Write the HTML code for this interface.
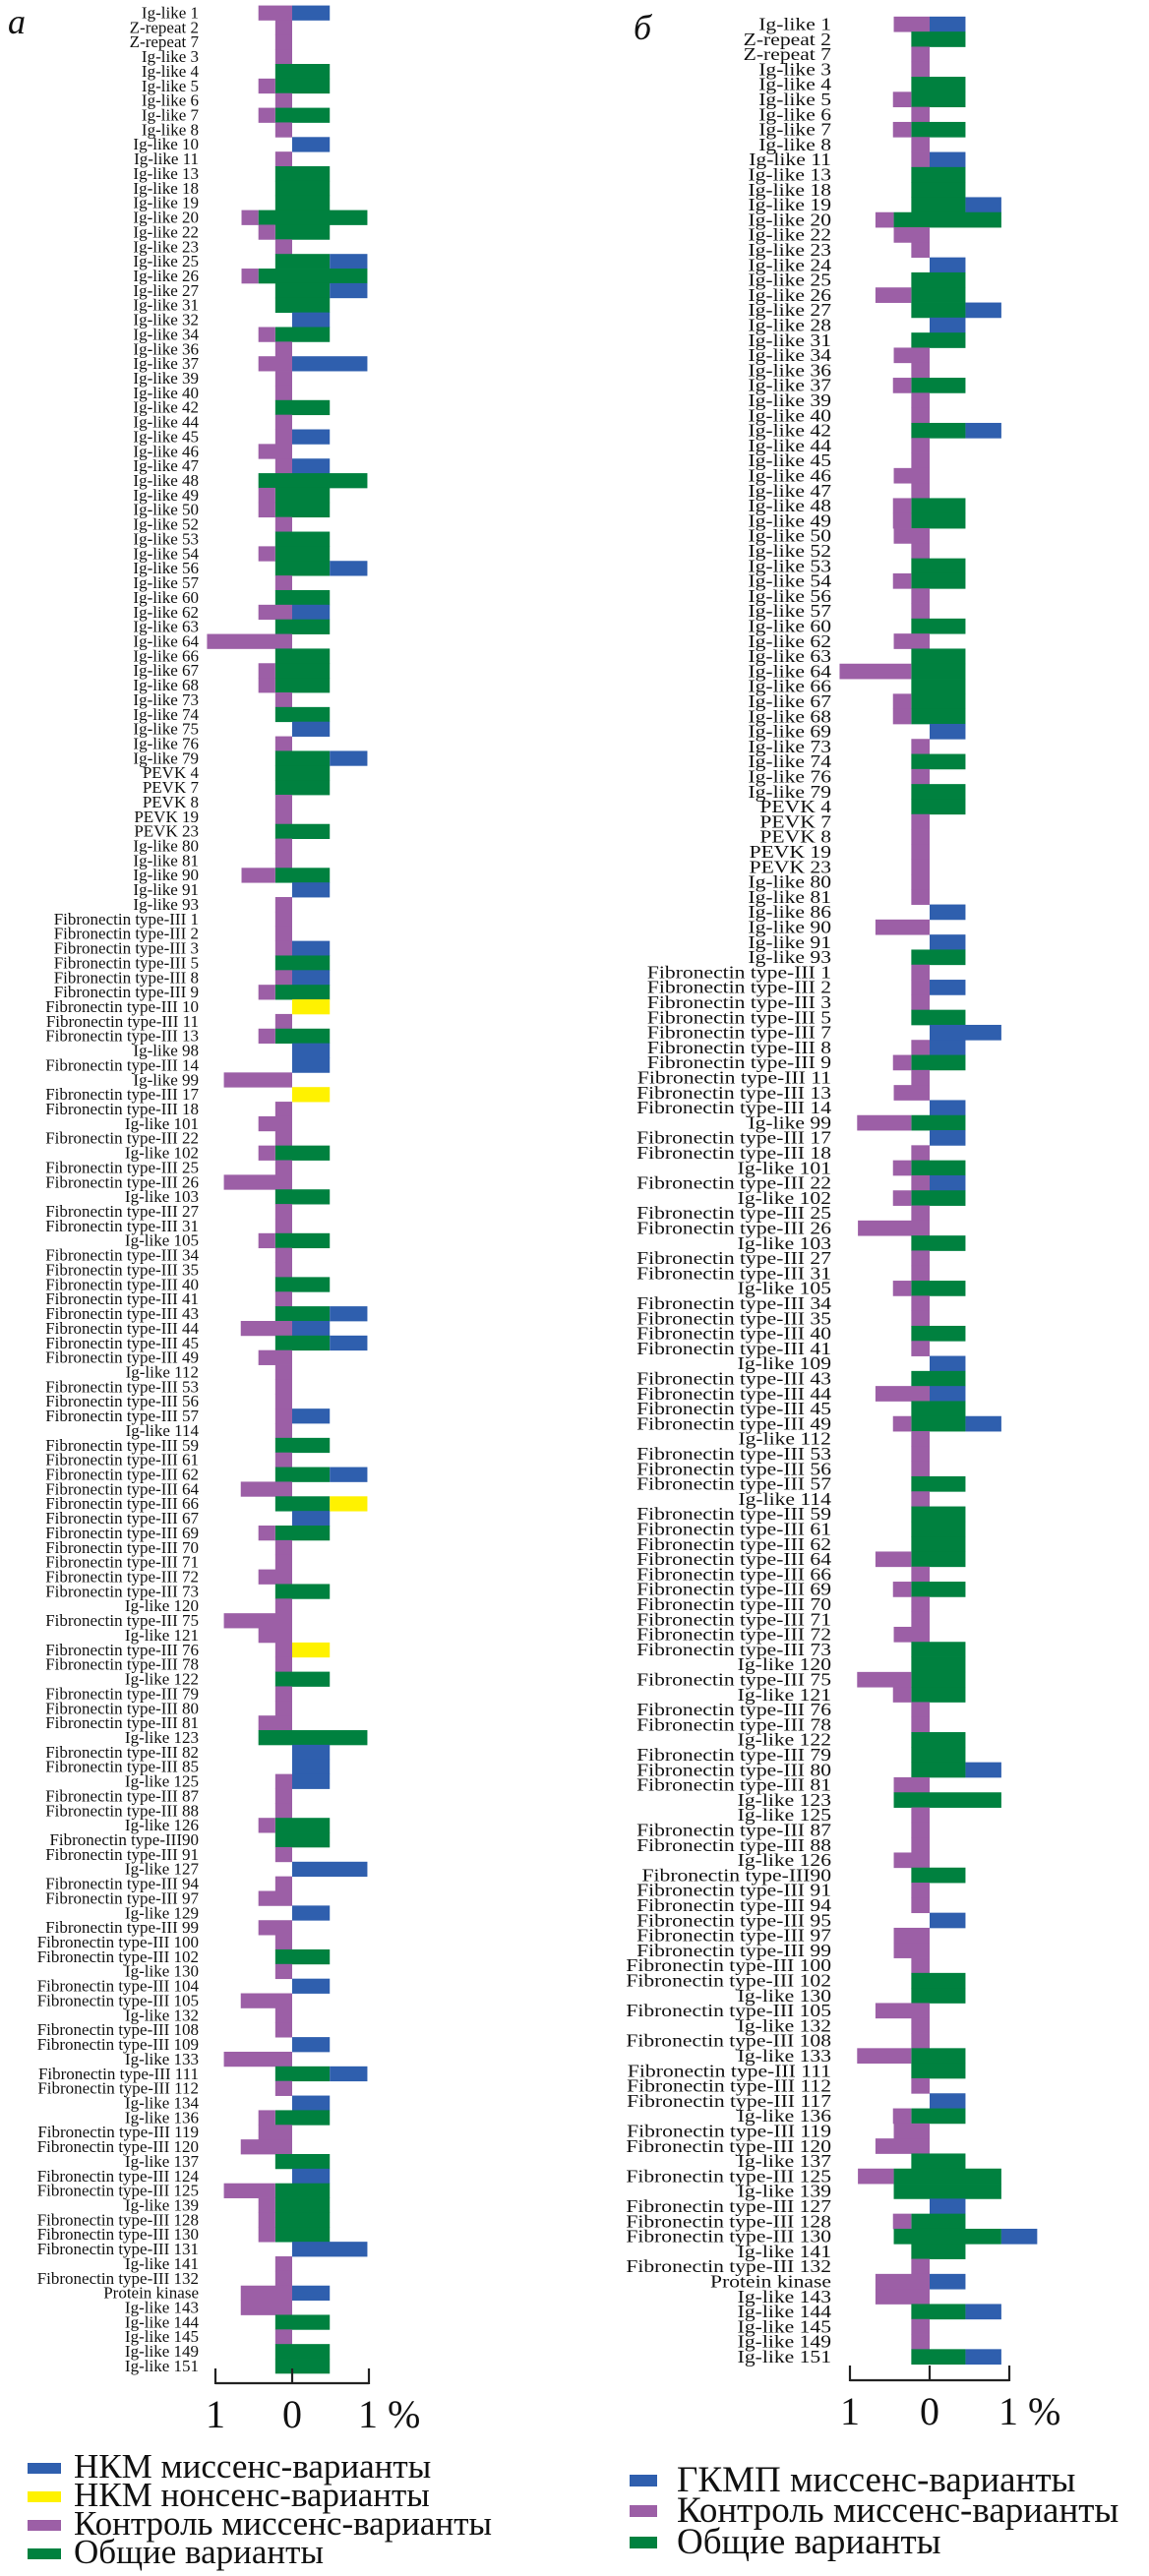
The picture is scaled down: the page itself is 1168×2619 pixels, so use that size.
<!DOCTYPE html>
<html><head><meta charset="utf-8"><style>
html,body{margin:0;padding:0;background:#fff;}
svg{display:block;}
text{font-family:"Liberation Serif","DejaVu Serif",serif;fill:#111;}
</style></head><body>
<svg id="chart" width="1168" height="2619" viewBox="0 0 1168 2619" xmlns="http://www.w3.org/2000/svg">
<text x="8" y="34" font-size="36" font-style="italic">а</text>
<text x="644" y="40" font-size="36" font-style="italic">б</text>
<g id="panelA"></g>
<g id="panelB"></g>
<g>
<rect x="28" y="2504" width="34" height="11" fill="#2f5fae"/>
<text x="75" y="2519" font-size="35">НКМ миссенс-варианты</text>
<rect x="28" y="2533" width="34" height="11" fill="#fff200"/>
<text x="75" y="2548" font-size="35">НКМ нонсенс-варианты</text>
<rect x="28" y="2562" width="34" height="11" fill="#9c5fa6"/>
<text x="75" y="2577" font-size="35">Контроль миссенс-варианты</text>
<rect x="28" y="2591" width="34" height="11" fill="#00813f"/>
<text x="75" y="2606" font-size="35">Общие варианты</text>
</g>
<g>
<rect x="640" y="2516" width="28" height="12" fill="#2f5fae"/>
<text x="688" y="2533" font-size="37">ГКМП миссенс-варианты</text>
<rect x="640" y="2547" width="28" height="12" fill="#9c5fa6"/>
<text x="688" y="2564" font-size="37">Контроль миссенс-варианты</text>
<rect x="640" y="2579" width="28" height="12" fill="#00813f"/>
<text x="688" y="2596" font-size="37">Общие варианты</text>
</g>
</svg>
<script>
const tickLabels = ["1", "0", "1 %"];
const tickValues = [-1, 0, 1];

const labelsA = ["Ig-like 1","Z-repeat 2","Z-repeat 7","Ig-like 3","Ig-like 4","Ig-like 5","Ig-like 6","Ig-like 7","Ig-like 8","Ig-like 10",
"Ig-like 11","Ig-like 13","Ig-like 18","Ig-like 19","Ig-like 20","Ig-like 22","Ig-like 23","Ig-like 25","Ig-like 26","Ig-like 27",
"Ig-like 31","Ig-like 32","Ig-like 34","Ig-like 36","Ig-like 37","Ig-like 39","Ig-like 40","Ig-like 42","Ig-like 44","Ig-like 45",
"Ig-like 46","Ig-like 47","Ig-like 48","Ig-like 49","Ig-like 50","Ig-like 52","Ig-like 53","Ig-like 54","Ig-like 56","Ig-like 57",
"Ig-like 60","Ig-like 62","Ig-like 63","Ig-like 64","Ig-like 66","Ig-like 67","Ig-like 68","Ig-like 73","Ig-like 74","Ig-like 75",
"Ig-like 76","Ig-like 79","PEVK 4","PEVK 7","PEVK 8","PEVK 19","PEVK 23","Ig-like 80","Ig-like 81","Ig-like 90",
"Ig-like 91","Ig-like 93","Fibronectin type-III 1","Fibronectin type-III 2","Fibronectin type-III 3","Fibronectin type-III 5","Fibronectin type-III 8","Fibronectin type-III 9","Fibronectin type-III 10","Fibronectin type-III 11",
"Fibronectin type-III 13","Ig-like 98","Fibronectin type-III 14","Ig-like 99","Fibronectin type-III 17","Fibronectin type-III 18","Ig-like 101","Fibronectin type-III 22","Ig-like 102","Fibronectin type-III 25",
"Fibronectin type-III 26","Ig-like 103","Fibronectin type-III 27","Fibronectin type-III 31","Ig-like 105","Fibronectin type-III 34","Fibronectin type-III 35","Fibronectin type-III 40","Fibronectin type-III 41","Fibronectin type-III 43",
"Fibronectin type-III 44","Fibronectin type-III 45","Fibronectin type-III 49","Ig-like 112","Fibronectin type-III 53","Fibronectin type-III 56","Fibronectin type-III 57","Ig-like 114","Fibronectin type-III 59","Fibronectin type-III 61",
"Fibronectin type-III 62","Fibronectin type-III 64","Fibronectin type-III 66","Fibronectin type-III 67","Fibronectin type-III 69","Fibronectin type-III 70","Fibronectin type-III 71","Fibronectin type-III 72","Fibronectin type-III 73","Ig-like 120",
"Fibronectin type-III 75","Ig-like 121","Fibronectin type-III 76","Fibronectin type-III 78","Ig-like 122","Fibronectin type-III 79","Fibronectin type-III 80","Fibronectin type-III 81","Ig-like 123","Fibronectin type-III 82",
"Fibronectin type-III 85","Ig-like 125","Fibronectin type-III 87","Fibronectin type-III 88","Ig-like 126","Fibronectin type-III90","Fibronectin type-III 91","Ig-like 127","Fibronectin type-III 94","Fibronectin type-III 97",
"Ig-like 129","Fibronectin type-III 99","Fibronectin type-III 100","Fibronectin type-III 102","Ig-like 130","Fibronectin type-III 104","Fibronectin type-III 105","Ig-like 132","Fibronectin type-III 108","Fibronectin type-III 109",
"Ig-like 133","Fibronectin type-III 111","Fibronectin type-III 112","Ig-like 134","Ig-like 136","Fibronectin type-III 119","Fibronectin type-III 120","Ig-like 137","Fibronectin type-III 124","Fibronectin type-III 125",
"Ig-like 139","Fibronectin type-III 128","Fibronectin type-III 130","Fibronectin type-III 131","Ig-like 141","Fibronectin type-III 132","Protein kinase","Ig-like 143","Ig-like 144","Ig-like 145",
"Ig-like 149","Ig-like 151"];

const controlMissenseA = [0.44,0.22,0.22,0.22,0,0.22,0.22,0.22,0.22,0,
0.22,0,0,0,0.22,0.22,0.22,0,0.22,0,
0,0,0.22,0.22,0.44,0.22,0.22,0,0.22,0.22,
0.44,0.22,0,0.22,0.22,0.22,0,0.22,0,0.22,
0,0.44,0,1.11,0,0.22,0.22,0.22,0,0,
0.22,0,0,0,0.22,0.22,0,0.22,0.22,0.44,
0,0.22,0.22,0.22,0.22,0,0.22,0.22,0,0.22,
0.22,0,0,0.89,0,0.22,0.44,0.22,0.22,0.22,
0.89,0,0.22,0.22,0.22,0.22,0.22,0,0.22,0,
0.67,0,0.44,0.22,0.22,0.22,0.22,0.22,0,0.22,
0,0.67,0,0,0.22,0.22,0.22,0.44,0,0.22,
0.89,0.44,0.22,0.22,0,0.22,0.22,0.44,0,0,
0,0.22,0.22,0.22,0.22,0,0.22,0,0.22,0.44,
0,0.44,0.22,0,0.22,0,0.67,0.22,0.22,0,
0.89,0,0.22,0,0.22,0.44,0.67,0,0,0.67,
0.22,0.22,0.22,0,0.22,0.22,0.67,0.67,0,0.22,
0,0];

const controlCommonA = [0,0,0,0,0.22,0.22,0,0.22,0,0,
0,0.22,0.22,0.22,0.44,0.22,0,0.22,0.44,0.22,
0.22,0,0.22,0,0,0,0,0.22,0,0,
0,0,0.44,0.22,0.22,0,0.22,0.22,0.22,0,
0.22,0,0.22,0,0.22,0.22,0.22,0,0.22,0,
0,0.22,0.22,0.22,0,0,0.22,0,0,0.22,
0,0,0,0,0,0.22,0,0.22,0,0,
0.22,0,0,0,0,0,0,0,0.22,0,
0,0.22,0,0,0.22,0,0,0.22,0,0.22,
0,0.22,0,0,0,0,0,0,0.22,0,
0.22,0,0.22,0,0.22,0,0,0,0.22,0,
0,0,0,0,0.22,0,0,0,0.44,0,
0,0,0,0,0.22,0.22,0,0,0,0,
0,0,0,0.22,0,0,0,0,0,0,
0,0.22,0,0,0.22,0,0,0.22,0,0.22,
0.22,0.22,0.22,0,0,0,0,0,0.22,0,
0.22,0.22];

const patientCommonA = [0,0,0,0,0.49,0.49,0,0.49,0,0,
0,0.49,0.49,0.49,0.98,0.49,0,0.49,0.98,0.49,
0.49,0,0.49,0,0,0,0,0.49,0,0,
0,0,0.98,0.49,0.49,0,0.49,0.49,0.49,0,
0.49,0,0.49,0,0.49,0.49,0.49,0,0.49,0,
0,0.49,0.49,0.49,0,0,0.49,0,0,0.49,
0,0,0,0,0,0.49,0,0.49,0,0,
0.49,0,0,0,0,0,0,0,0.49,0,
0,0.49,0,0,0.49,0,0,0.49,0,0.49,
0,0.49,0,0,0,0,0,0,0.49,0,
0.49,0,0.49,0,0.49,0,0,0,0.49,0,
0,0,0,0,0.49,0,0,0,0.98,0,
0,0,0,0,0.49,0.49,0,0,0,0,
0,0,0,0.49,0,0,0,0,0,0,
0,0.49,0,0,0.49,0,0,0.49,0,0.49,
0.49,0.49,0.49,0,0,0,0,0,0.49,0,
0.49,0.49];

const patientMissenseA = [0.49,0,0,0,0,0,0,0,0,0.49,
0,0,0,0,0,0,0,0.49,0,0.49,
0,0.49,0,0,0.98,0,0,0,0,0.49,
0,0.49,0,0,0,0,0,0,0.49,0,
0,0.49,0,0,0,0,0,0,0,0.49,
0,0.49,0,0,0,0,0,0,0,0,
0.49,0,0,0,0.49,0,0.49,0,0,0,
0,0.49,0.49,0,0,0,0,0,0,0,
0,0,0,0,0,0,0,0,0,0.49,
0.49,0.49,0,0,0,0,0.49,0,0,0,
0.49,0,0,0.49,0,0,0,0,0,0,
0,0,0,0,0,0,0,0,0,0.49,
0.49,0.49,0,0,0,0,0,0.98,0,0,
0.49,0,0,0,0,0.49,0,0,0,0.49,
0,0.49,0,0.49,0,0,0,0,0.49,0,
0,0,0,0.98,0,0,0.49,0,0,0,
0,0];

const patientNonsenseA = [0,0,0,0,0,0,0,0,0,0,
0,0,0,0,0,0,0,0,0,0,
0,0,0,0,0,0,0,0,0,0,
0,0,0,0,0,0,0,0,0,0,
0,0,0,0,0,0,0,0,0,0,
0,0,0,0,0,0,0,0,0,0,
0,0,0,0,0,0,0,0,0.49,0,
0,0,0,0,0.49,0,0,0,0,0,
0,0,0,0,0,0,0,0,0,0,
0,0,0,0,0,0,0,0,0,0,
0,0,0.49,0,0,0,0,0,0,0,
0,0,0.49,0,0,0,0,0,0,0,
0,0,0,0,0,0,0,0,0,0,
0,0,0,0,0,0,0,0,0,0,
0,0,0,0,0,0,0,0,0,0,
0,0,0,0,0,0,0,0,0,0,
0,0];

const labelsB = ["Ig-like 1","Z-repeat 2","Z-repeat 7","Ig-like 3","Ig-like 4","Ig-like 5","Ig-like 6","Ig-like 7","Ig-like 8","Ig-like 11",
"Ig-like 13","Ig-like 18","Ig-like 19","Ig-like 20","Ig-like 22","Ig-like 23","Ig-like 24","Ig-like 25","Ig-like 26","Ig-like 27",
"Ig-like 28","Ig-like 31","Ig-like 34","Ig-like 36","Ig-like 37","Ig-like 39","Ig-like 40","Ig-like 42","Ig-like 44","Ig-like 45",
"Ig-like 46","Ig-like 47","Ig-like 48","Ig-like 49","Ig-like 50","Ig-like 52","Ig-like 53","Ig-like 54","Ig-like 56","Ig-like 57",
"Ig-like 60","Ig-like 62","Ig-like 63","Ig-like 64","Ig-like 66","Ig-like 67","Ig-like 68","Ig-like 69","Ig-like 73","Ig-like 74",
"Ig-like 76","Ig-like 79","PEVK 4","PEVK 7","PEVK 8","PEVK 19","PEVK 23","Ig-like 80","Ig-like 81","Ig-like 86",
"Ig-like 90","Ig-like 91","Ig-like 93","Fibronectin type-III 1","Fibronectin type-III 2","Fibronectin type-III 3","Fibronectin type-III 5","Fibronectin type-III 7","Fibronectin type-III 8","Fibronectin type-III 9",
"Fibronectin type-III 11","Fibronectin type-III 13","Fibronectin type-III 14","Ig-like 99","Fibronectin type-III 17","Fibronectin type-III 18","Ig-like 101","Fibronectin type-III 22","Ig-like 102","Fibronectin type-III 25",
"Fibronectin type-III 26","Ig-like 103","Fibronectin type-III 27","Fibronectin type-III 31","Ig-like 105","Fibronectin type-III 34","Fibronectin type-III 35","Fibronectin type-III 40","Fibronectin type-III 41","Ig-like 109",
"Fibronectin type-III 43","Fibronectin type-III 44","Fibronectin type-III 45","Fibronectin type-III 49","Ig-like 112","Fibronectin type-III 53","Fibronectin type-III 56","Fibronectin type-III 57","Ig-like 114","Fibronectin type-III 59",
"Fibronectin type-III 61","Fibronectin type-III 62","Fibronectin type-III 64","Fibronectin type-III 66","Fibronectin type-III 69","Fibronectin type-III 70","Fibronectin type-III 71","Fibronectin type-III 72","Fibronectin type-III 73","Ig-like 120",
"Fibronectin type-III 75","Ig-like 121","Fibronectin type-III 76","Fibronectin type-III 78","Ig-like 122","Fibronectin type-III 79","Fibronectin type-III 80","Fibronectin type-III 81","Ig-like 123","Ig-like 125",
"Fibronectin type-III 87","Fibronectin type-III 88","Ig-like 126","Fibronectin type-III90","Fibronectin type-III 91","Fibronectin type-III 94","Fibronectin type-III 95","Fibronectin type-III 97","Fibronectin type-III 99","Fibronectin type-III 100",
"Fibronectin type-III 102","Ig-like 130","Fibronectin type-III 105","Ig-like 132","Fibronectin type-III 108","Ig-like 133","Fibronectin type-III 111","Fibronectin type-III 112","Fibronectin type-III 117","Ig-like 136",
"Fibronectin type-III 119","Fibronectin type-III 120","Ig-like 137","Fibronectin type-III 125","Ig-like 139","Fibronectin type-III 127","Fibronectin type-III 128","Fibronectin type-III 130","Ig-like 141","Fibronectin type-III 132",
"Protein kinase","Ig-like 143","Ig-like 144","Ig-like 145","Ig-like 149","Ig-like 151"];

const controlMissenseB = [0.45,0,0.23,0.23,0,0.23,0.23,0.23,0.23,0.23,
0,0,0,0.23,0.45,0.23,0,0,0.45,0,
0,0,0.45,0.23,0.23,0.23,0.23,0,0.23,0.23,
0.45,0.23,0.23,0.23,0.45,0.23,0,0.23,0.23,0.23,
0,0.45,0,0.9,0,0.23,0.23,0,0.23,0,
0.23,0,0,0.23,0.23,0.23,0.23,0.23,0.23,0,
0.68,0,0,0.23,0.23,0.23,0,0,0.23,0.23,
0.23,0.45,0,0.68,0,0.23,0.23,0.23,0.23,0.23,
0.9,0,0.23,0.23,0.23,0.23,0.23,0,0.23,0,
0,0.68,0,0.23,0.23,0.23,0.23,0,0.23,0,
0,0,0.45,0.23,0.23,0.23,0.23,0.45,0,0,
0.68,0.23,0.23,0.23,0,0,0,0.45,0,0.23,
0.23,0.23,0.45,0,0.23,0.23,0,0.45,0.45,0.23,
0,0,0.68,0.23,0.23,0.68,0,0.23,0,0.23,
0.45,0.68,0,0.45,0,0,0.23,0,0,0.23,
0.68,0.68,0,0.23,0.23,0];

const controlCommonB = [0,0.23,0,0,0.23,0.23,0,0.23,0,0,
0.23,0.23,0.23,0.45,0,0,0,0.23,0.23,0.23,
0,0.23,0,0,0.23,0,0,0.23,0,0,
0,0,0.23,0.23,0,0,0.23,0.23,0,0,
0.23,0,0.23,0.23,0.23,0.23,0.23,0,0,0.23,
0,0.23,0.23,0,0,0,0,0,0,0,
0,0,0.23,0,0,0,0.23,0,0,0.23,
0,0,0,0.23,0,0,0.23,0,0.23,0,
0,0.23,0,0,0.23,0,0,0.23,0,0,
0.23,0,0.23,0.23,0,0,0,0.23,0,0.23,
0.23,0.23,0.23,0,0.23,0,0,0,0.23,0.23,
0.23,0.23,0,0,0.23,0.23,0.23,0,0.45,0,
0,0,0,0.23,0,0,0,0,0,0,
0.23,0.23,0,0,0,0.23,0.23,0,0,0.23,
0,0,0.23,0.45,0.45,0,0.23,0.45,0.23,0,
0,0,0.23,0,0,0.23];

const patientCommonB = [0,0.45,0,0,0.45,0.45,0,0.45,0,0,
0.45,0.45,0.45,0.9,0,0,0,0.45,0.45,0.45,
0,0.45,0,0,0.45,0,0,0.45,0,0,
0,0,0.45,0.45,0,0,0.45,0.45,0,0,
0.45,0,0.45,0.45,0.45,0.45,0.45,0,0,0.45,
0,0.45,0.45,0,0,0,0,0,0,0,
0,0,0.45,0,0,0,0.45,0,0,0.45,
0,0,0,0.45,0,0,0.45,0,0.45,0,
0,0.45,0,0,0.45,0,0,0.45,0,0,
0.45,0,0.45,0.45,0,0,0,0.45,0,0.45,
0.45,0.45,0.45,0,0.45,0,0,0,0.45,0.45,
0.45,0.45,0,0,0.45,0.45,0.45,0,0.9,0,
0,0,0,0.45,0,0,0,0,0,0,
0.45,0.45,0,0,0,0.45,0.45,0,0,0.45,
0,0,0.45,0.9,0.9,0,0.45,0.9,0.45,0,
0,0,0.45,0,0,0.45];

const patientMissenseB = [0.45,0,0,0,0,0,0,0,0,0.45,
0,0,0.45,0,0,0,0.45,0,0,0.45,
0.45,0,0,0,0,0,0,0.45,0,0,
0,0,0,0,0,0,0,0,0,0,
0,0,0,0,0,0,0,0.45,0,0,
0,0,0,0,0,0,0,0,0,0.45,
0,0.45,0,0,0.45,0,0,0.9,0.45,0,
0,0,0.45,0,0.45,0,0,0.45,0,0,
0,0,0,0,0,0,0,0,0,0.45,
0,0.45,0,0.45,0,0,0,0,0,0,
0,0,0,0,0,0,0,0,0,0,
0,0,0,0,0,0,0.45,0,0,0,
0,0,0,0,0,0,0.45,0,0,0,
0,0,0,0,0,0,0,0,0.45,0,
0,0,0,0,0,0.45,0,0.45,0,0,
0.45,0,0.45,0,0,0.45];

const C = {blue:"#2f5fae", yellow:"#fff200", purple:"#9c5fa6", green:"#00813f"};
const NS = "http://www.w3.org/2000/svg";

function mk(tag, attrs){
  const el = document.createElementNS(NS, tag);
  for (const k in attrs) el.setAttribute(k, attrs[k]);
  return el;
}

function drawPanel(g, cfg, labels, ctrl, ctrlCommon, patCommon, patMiss, patNon, tag){
  const xScale = v => cfg.zero + v * cfg.pxPerPct;
  const yCenter = i => cfg.firstY + i * cfg.pitch;
  const h = cfg.pitch + 0.4;
  labels.forEach((lab, i) => {
    const cy = yCenter(i);
    const t = mk('text', {x: cfg.labelX, y: (cy + cfg.baseOff).toFixed(2), 'font-size': cfg.fontSize, 'text-anchor': 'end'});
    if (cfg.sx !== 1) t.setAttribute('transform', `translate(${cfg.labelX},0) scale(${cfg.sx},1) translate(${-cfg.labelX},0)`);
    t.textContent = lab;
    
    
    g.appendChild(t);
    const top = cy - cfg.pitch / 2;
    const segs = [];
    const cl = ctrlCommon[i] || 0, cp = ctrl[i] || 0;
    if (cl > 0) segs.push([-cl, 0, C.green, 'common-control-bar']);
    if (cp > 0) segs.push([-cl - cp, -cl, C.purple, 'control-missense-bar']);
    const pc = patCommon[i] || 0, pm = patMiss[i] || 0, pn = patNon ? (patNon[i] || 0) : 0;
    if (pc > 0) segs.push([0, pc, C.green, 'common-patient-bar']);
    if (pm > 0) segs.push([pc, pc + pm, C.blue, 'patient-missense-bar']);
    if (pn > 0) segs.push([pc + pm, pc + pm + pn, C.yellow, 'patient-nonsense-bar']);
    segs.forEach(s => {
      const x1 = xScale(s[0]), x2 = xScale(s[1]);
      const r = mk('rect', {x: x1.toFixed(2), y: top.toFixed(2), width: (x2 - x1).toFixed(2), height: h.toFixed(2), fill: s[2]});
      
      
      g.appendChild(r);
    });
  });
  const ax = mk('g', {});
  
  
  const xl = xScale(tickValues[0]), xr = xScale(tickValues[tickValues.length - 1]);
  const line = mk('line', {x1: xl, x2: xr, y1: cfg.axisY, y2: cfg.axisY, stroke: '#222', 'stroke-width': 2.2});
  
  
  ax.appendChild(line);
  tickValues.forEach((v, k) => {
    const x = xScale(v);
    const tk = mk('line', {x1: x, x2: x, y1: cfg.axisY - 15, y2: cfg.axisY + 1, stroke: '#222', 'stroke-width': 2.2});
    
    
    ax.appendChild(tk);
    const tl = mk('text', {x: k === 2 ? x - 11 : x, y: cfg.axisY + 45, 'font-size': cfg.tickFont, 'text-anchor': k === 2 ? 'start' : 'middle'});
    tl.textContent = tickLabels[k];
    
    
    ax.appendChild(tl);
  });
  g.appendChild(ax);
}

drawPanel(document.getElementById('panelA'),
  {zero: 297, pxPerPct: 78, firstY: 13, pitch: 14.86, labelX: 202, fontSize: 17, baseOff: 5.5, sx: 1, axisY: 2423, tickFont: 40},
  labelsA, controlMissenseA, controlCommonA, patientCommonA, patientMissenseA, patientNonsenseA, 'panel-a');
drawPanel(document.getElementById('panelB'),
  {zero: 945, pxPerPct: 81, firstY: 24.5, pitch: 15.3, labelX: 845, fontSize: 18, baseOff: 6, sx: 1.2, axisY: 2420, tickFont: 40},
  labelsB, controlMissenseB, controlCommonB, patientCommonB, patientMissenseB, null, 'panel-b');
</script>
</body></html>
